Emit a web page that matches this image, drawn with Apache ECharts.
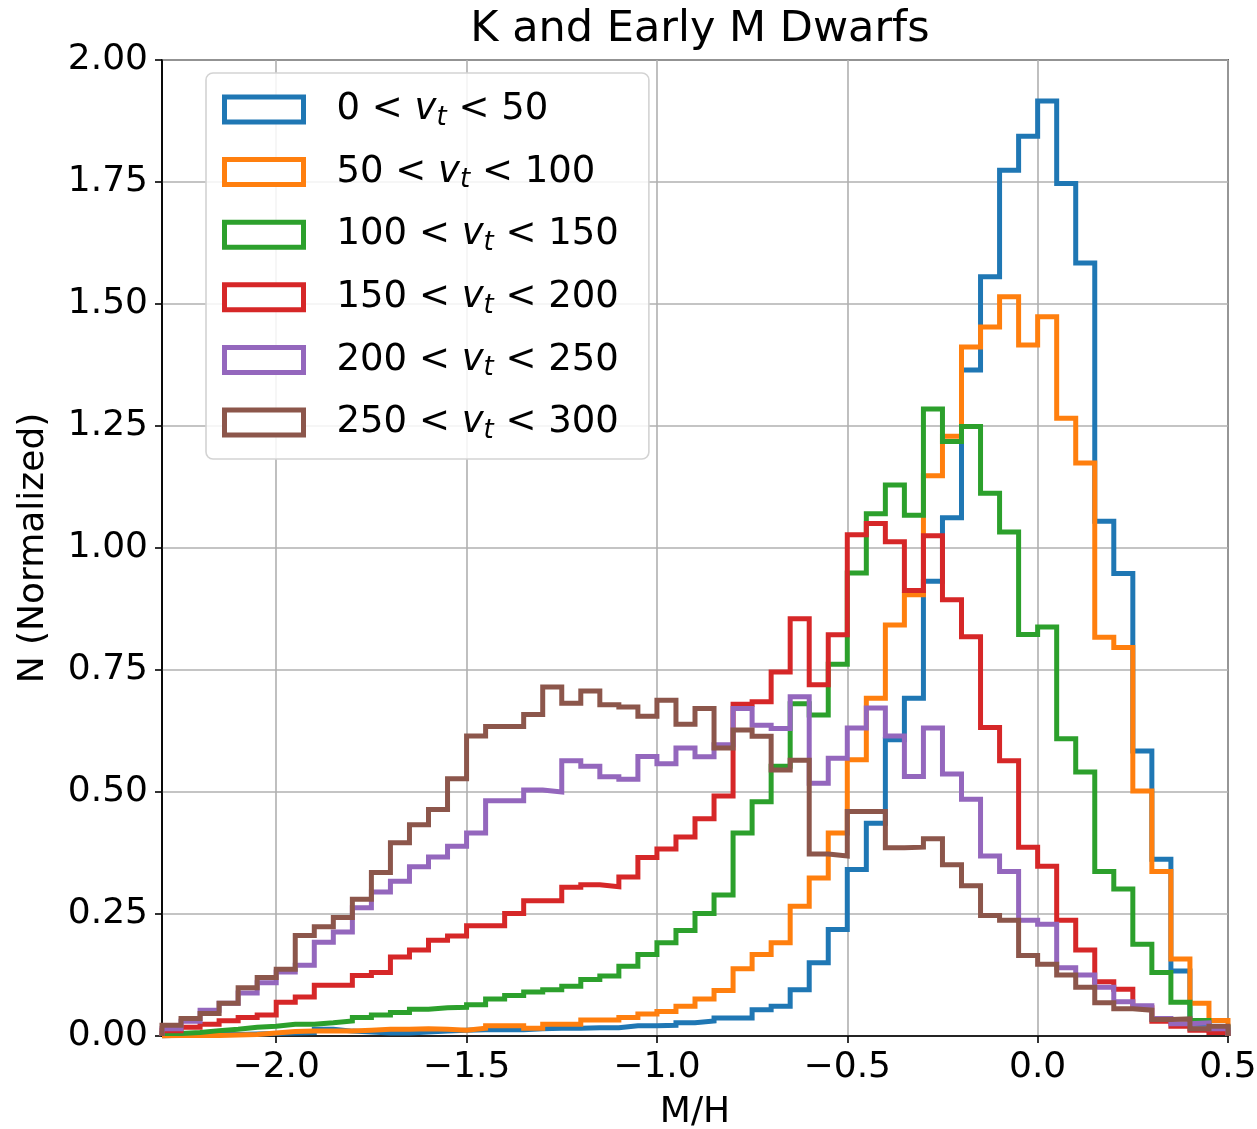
<!DOCTYPE html>
<html>
<head>
<meta charset="utf-8">
<script src="https://cdn.jsdelivr.net/npm/echarts@6/dist/echarts.min.js"></script>
<style>
    html, body { margin: 0; padding: 0; background: #fff; }
    #chart { width: 1257px; height: 1129px; }
</style>
</head>
<body>
<div id="chart"></div>
<script>
// 直方图的分箱：-2.3 到 0.5，每箱 0.05
const binEdges = Array.from({ length: 57 }, (_, i) => +(-2.3 + 0.05 * i).toFixed(2));

// 每个速度区间的归一化计数
const vt0_50 = [0.002, 0.002, 0.003, 0.003, 0.004, 0.005, 0.006, 0.007, 0.014, 0.010,
    0.008, 0.006, 0.006, 0.008, 0.010, 0.012, 0.013, 0.013, 0.013, 0.015,
    0.016, 0.016, 0.017, 0.017, 0.021, 0.021, 0.022, 0.027, 0.031, 0.037,
    0.037, 0.054, 0.061, 0.095, 0.150, 0.218, 0.341, 0.436, 0.607, 0.692,
    0.932, 1.062, 1.365, 1.556, 1.774, 1.844, 1.916, 1.747, 1.584, 1.055,
    0.948, 0.584, 0.362, 0.133, 0.024, 0.012];
const vt50_100 = [0.001, 0.001, 0.001, 0.002, 0.003, 0.006, 0.009, 0.010, 0.010, 0.010,
    0.012, 0.014, 0.014, 0.015, 0.014, 0.012, 0.016, 0.021, 0.021, 0.016,
    0.024, 0.024, 0.033, 0.033, 0.038, 0.045, 0.050, 0.061, 0.076, 0.093,
    0.138, 0.167, 0.191, 0.266, 0.324, 0.416, 0.566, 0.692, 0.842, 0.904,
    1.148, 1.229, 1.412, 1.453, 1.515, 1.416, 1.474, 1.266, 1.174, 0.817,
    0.796, 0.502, 0.337, 0.158, 0.067, 0.032];
const vt100_150 = [0.005, 0.007, 0.011, 0.014, 0.018, 0.020, 0.024, 0.024, 0.027, 0.031,
    0.038, 0.043, 0.048, 0.055, 0.058, 0.059, 0.064, 0.076, 0.083, 0.090,
    0.095, 0.102, 0.116, 0.123, 0.143, 0.167, 0.191, 0.216, 0.251, 0.289,
    0.416, 0.480, 0.553, 0.681, 0.658, 0.762, 0.949, 1.070, 1.129, 1.067,
    1.285, 1.218, 1.249, 1.112, 1.033, 0.823, 0.838, 0.609, 0.541, 0.337,
    0.301, 0.188, 0.130, 0.069, 0.032, 0.018];
const vt150_200 = [0.011, 0.018, 0.024, 0.031, 0.038, 0.043, 0.069, 0.080, 0.104, 0.104,
    0.124, 0.130, 0.162, 0.176, 0.196, 0.205, 0.226, 0.226, 0.251, 0.277,
    0.277, 0.305, 0.310, 0.306, 0.326, 0.366, 0.383, 0.408, 0.445, 0.492,
    0.680, 0.685, 0.746, 0.855, 0.720, 0.822, 1.027, 1.050, 1.013, 0.913,
    1.025, 0.894, 0.818, 0.632, 0.564, 0.387, 0.348, 0.237, 0.176, 0.111,
    0.096, 0.058, 0.030, 0.020, 0.012, 0.007];
const vt200_250 = [0.015, 0.030, 0.053, 0.067, 0.088, 0.109, 0.131, 0.145, 0.192, 0.213,
    0.263, 0.295, 0.317, 0.347, 0.367, 0.389, 0.416, 0.482, 0.482, 0.504,
    0.500, 0.564, 0.553, 0.531, 0.526, 0.573, 0.558, 0.590, 0.572, 0.597,
    0.671, 0.637, 0.630, 0.695, 0.518, 0.569, 0.631, 0.672, 0.615, 0.532,
    0.631, 0.537, 0.485, 0.369, 0.337, 0.237, 0.229, 0.140, 0.125, 0.100,
    0.070, 0.062, 0.036, 0.025, 0.027, 0.015];
const vt250_300 = [0.022, 0.036, 0.046, 0.067, 0.099, 0.120, 0.137, 0.206, 0.224, 0.243,
    0.280, 0.335, 0.396, 0.433, 0.464, 0.527, 0.615, 0.634, 0.634, 0.659,
    0.715, 0.682, 0.707, 0.679, 0.674, 0.655, 0.688, 0.639, 0.671, 0.590,
    0.627, 0.614, 0.545, 0.565, 0.373, 0.369, 0.460, 0.460, 0.386, 0.387,
    0.404, 0.351, 0.308, 0.247, 0.237, 0.165, 0.147, 0.125, 0.100, 0.068,
    0.056, 0.053, 0.034, 0.035, 0.015, 0.020];

const ranges = [[0, 50], [50, 100], [100, 150], [150, 200], [200, 250], [250, 300]];
const counts = [vt0_50, vt50_100, vt100_150, vt150_200, vt200_250, vt250_300];
const colors = ['#1f77b4', '#ff7f0e', '#2ca02c', '#d62728', '#9467bd', '#8c564b'];

const xTicks = [-2.0, -1.5, -1.0, -0.5, 0.0, 0.5];

const FONT = 'DejaVu Sans';

// 把直方图转成阶梯线的点（两端落回 0）
function stepData(vals) {
    let pts = [[binEdges[0], 0]];
    vals.forEach((v, i) => pts.push([binEdges[i], v]));
    pts.push([binEdges[binEdges.length - 1], vals[vals.length - 1]]);
    pts.push([binEdges[binEdges.length - 1], 0]);
    return pts;
}

function fmtMinus(v, digits) {
    return (v < 0 ? '\u2212' : '') + Math.abs(v).toFixed(digits);
}

var myChart = echarts.init(document.getElementById('chart'), null, { renderer: 'canvas' });

let option = {
    animation: false,
    backgroundColor: '#ffffff',
    title: {
        text: 'K and Early M Dwarfs',
        left: 695,
        top: 3,
        textAlign: 'center',
        textStyle: { fontFamily: FONT, fontSize: 43, fontWeight: 'normal', color: '#000' }
    },
    grid: {
        left: 162,
        right: 29,
        top: 60,
        bottom: 93,
        outerBoundsMode: 'none',
        containLabel: false,
        show: true,
        borderColor: '#000',
        borderWidth: 1.6,
        backgroundColor: 'transparent'
    },
    legend: {
        orient: 'vertical',
        left: 206,
        top: 73,
        padding: [18, 30, 15, 16],
        itemWidth: 79,
        itemHeight: 25,
        itemGap: 22.6,
        backgroundColor: 'rgba(255,255,255,0.85)',
        borderColor: '#d3d3d3',
        borderWidth: 1.6,
        borderRadius: 7,
        icon: 'rect',
        data: ranges.map((r, i) => ({
            name: r[0] + '-' + r[1],
            itemStyle: { color: '#ffffff', borderColor: colors[i], borderWidth: 5 }
        })),
        formatter: function(name) {
            let p = name.split('-');
            return '{g| }{n|' + p[0] + ' < }{v|v}{s|t}{n| < ' + p[1] + '}';
        },
        textStyle: {
            rich: {
                g: { width: 28, fontSize: 37, lineHeight: 43 },
                n: { fontFamily: FONT, fontSize: 37, color: '#000', lineHeight: 43 },
                v: { fontFamily: FONT, fontSize: 37, fontStyle: 'italic', color: '#000', lineHeight: 43 },
                s: { fontFamily: FONT, fontSize: 26, fontStyle: 'italic', color: '#000', lineHeight: 26, verticalAlign: 'bottom' }
            }
        }
    },
    xAxis: {
        type: 'value',
        min: -2.3,
        max: 0.5,
        name: 'M/H',
        nameLocation: 'middle',
        nameGap: 59,
        nameTextStyle: { fontFamily: FONT, fontSize: 36, color: '#000' },
        axisLine: { show: true, onZero: false, lineStyle: { color: '#000', width: 1.6 } },
        axisTick: { show: true, length: 7, lineStyle: { color: '#000', width: 1.6 }, customValues: xTicks },
        axisLabel: {
            customValues: xTicks,
            margin: 14,
            fontFamily: FONT,
            fontSize: 36,
            color: '#000',
            formatter: v => fmtMinus(v, 1)
        },
        splitLine: { show: true, lineStyle: { color: '#b0b0b0', width: 1.6 } }
    },
    yAxis: {
        type: 'value',
        min: 0,
        max: 2,
        interval: 0.25,
        name: 'N (Normalized)',
        nameLocation: 'middle',
        nameGap: 110,
        nameTextStyle: { fontFamily: FONT, fontSize: 36, color: '#000' },
        axisLine: { show: true, onZero: false, lineStyle: { color: '#000', width: 1.6 } },
        axisTick: { show: true, length: 7, lineStyle: { color: '#000', width: 1.6 } },
        axisLabel: {
            margin: 14,
            fontFamily: FONT,
            fontSize: 36,
            color: '#000',
            formatter: v => v.toFixed(2)
        },
        splitLine: { show: true, lineStyle: { color: '#b0b0b0', width: 1.6 } }
    },
    series: counts.map((vals, i) => ({
        name: ranges[i][0] + '-' + ranges[i][1],
        type: 'line',
        step: 'end',
        showSymbol: false,
        symbol: 'none',
        color: colors[i],
        lineStyle: { color: colors[i], width: 5, join: 'miter' },
        data: stepData(vals)
    }))
};

myChart.setOption(option);
</script>
</body>
</html>
